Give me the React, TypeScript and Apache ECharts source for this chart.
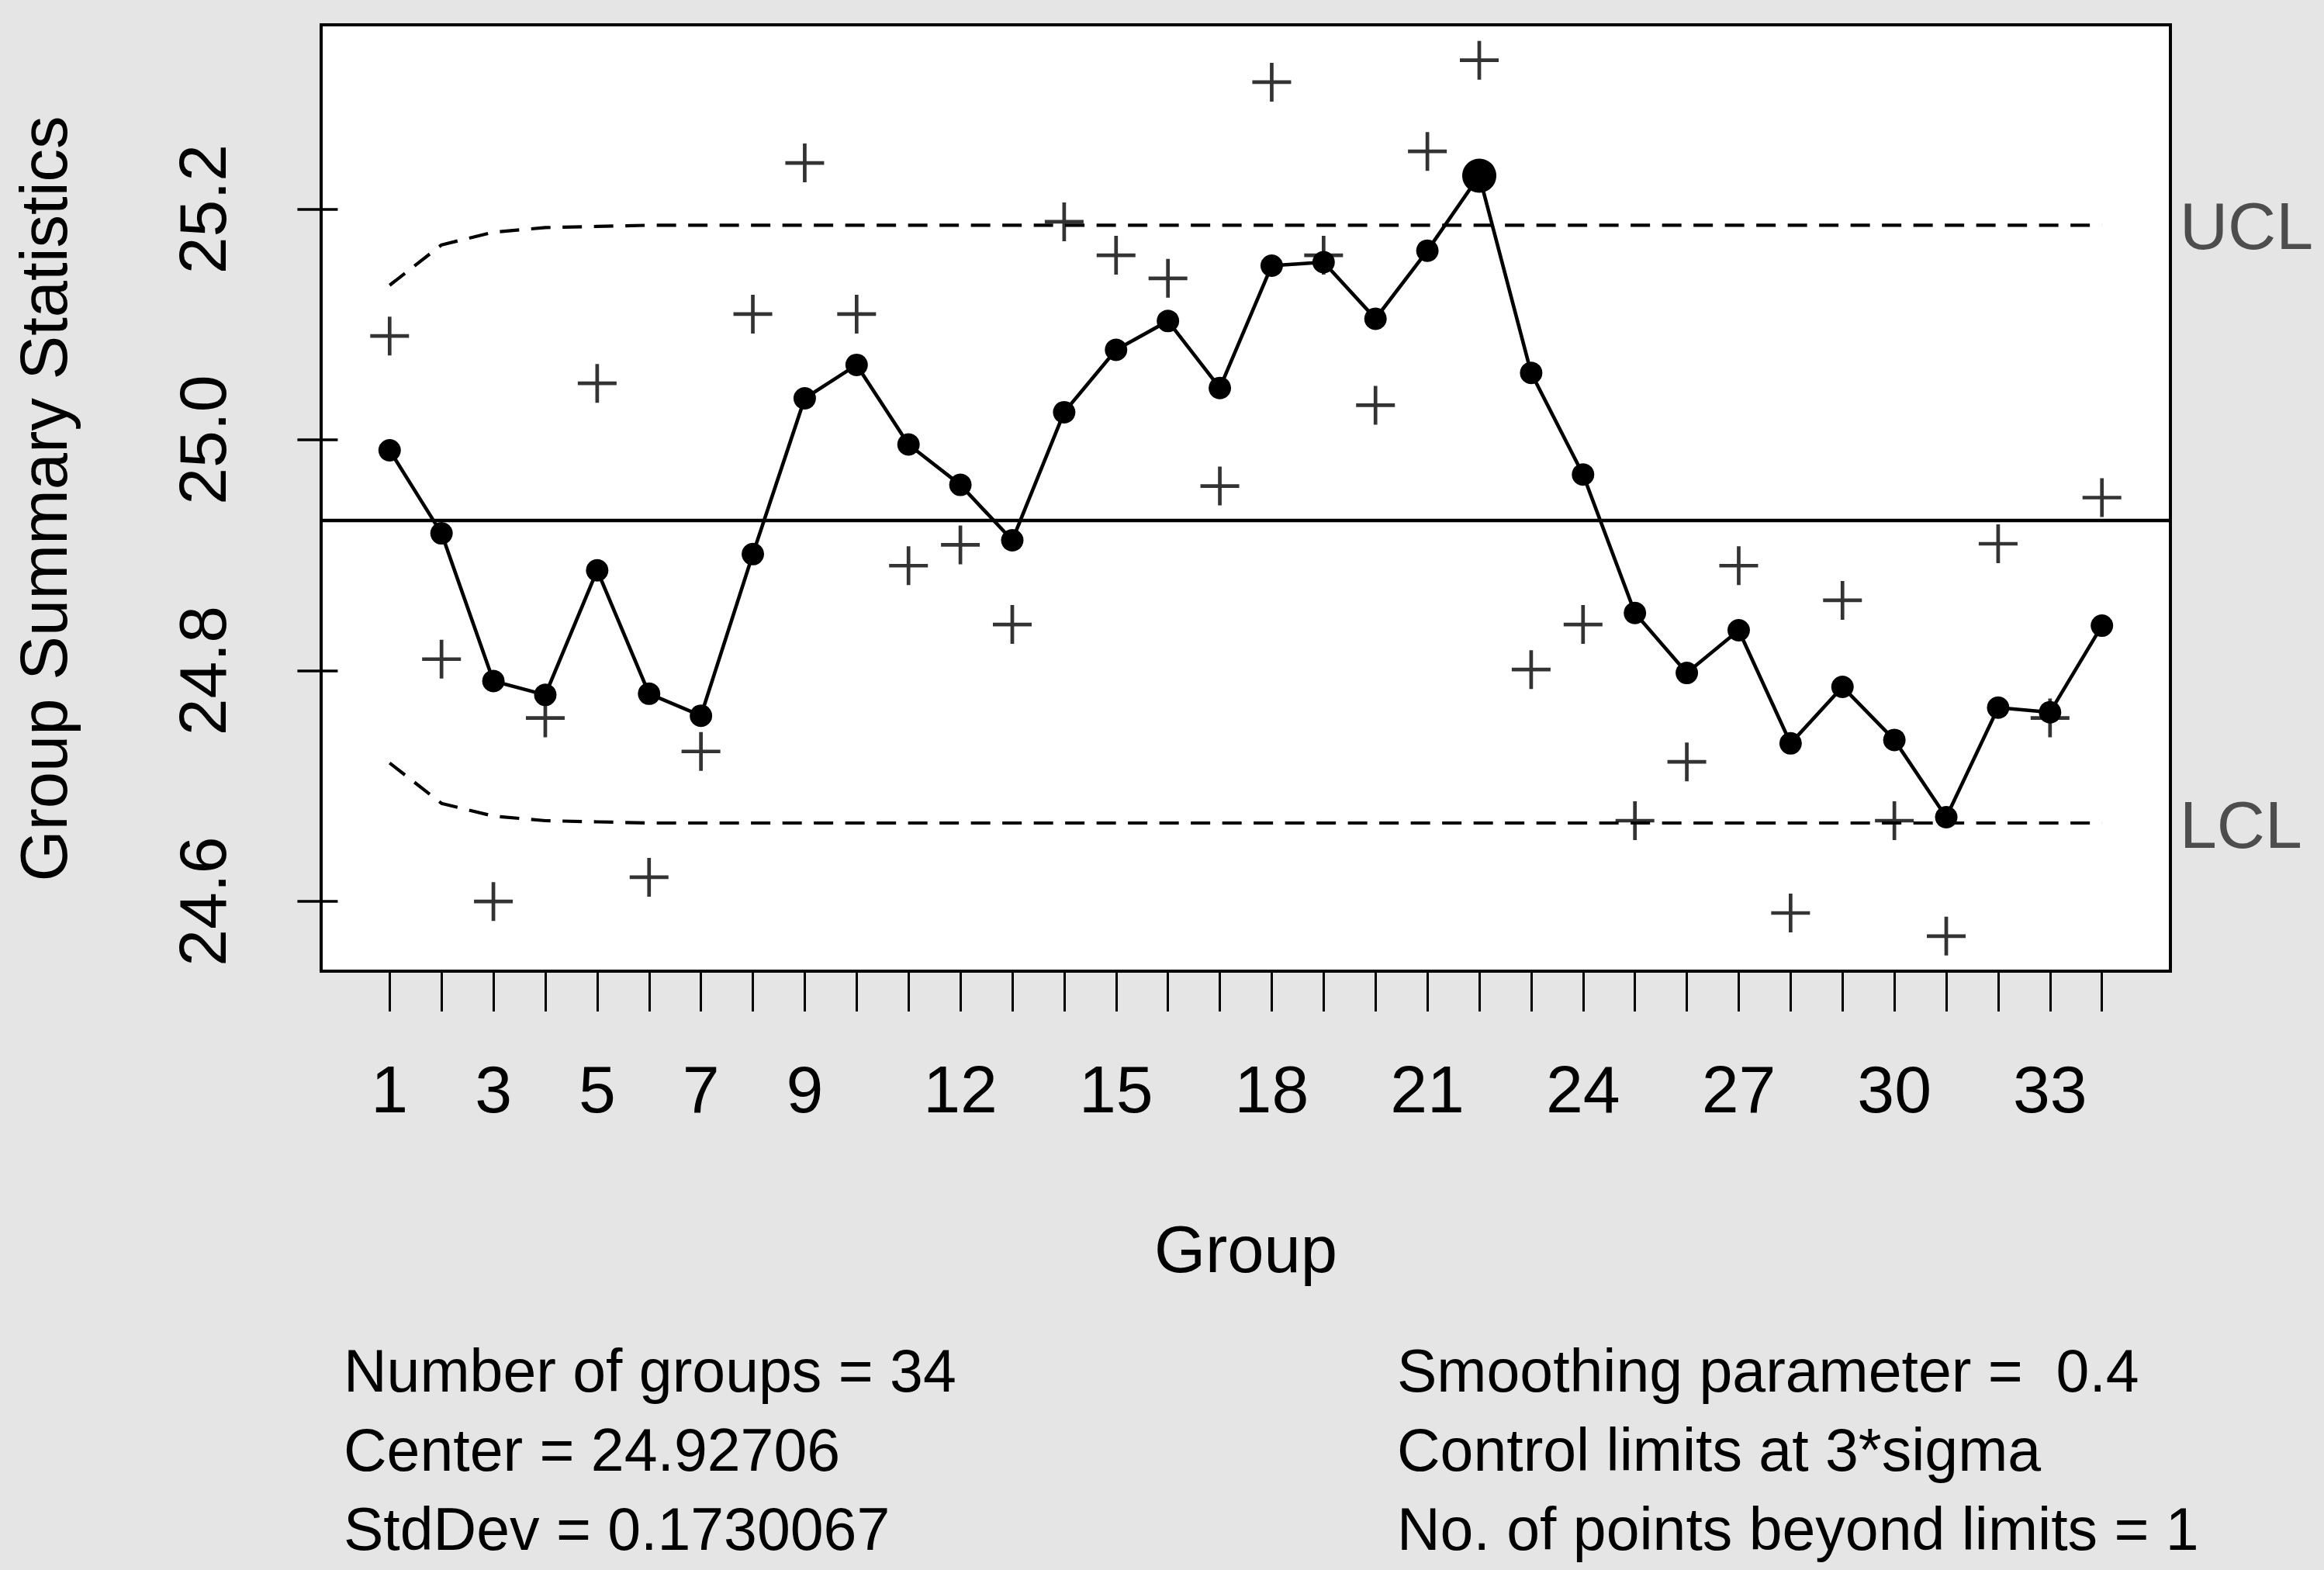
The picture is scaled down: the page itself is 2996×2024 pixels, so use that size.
import React, { useEffect, useRef } from "react";
import * as echarts from "echarts";

// ---- data ----
const groups: number[] = [
  1, 2, 3, 4, 5, 6, 7, 8, 9, 10, 11, 12, 13, 14, 15, 16, 17,
  18, 19, 20, 21, 22, 23, 24, 25, 26, 27, 28, 29, 30, 31, 32, 33, 34,
];
const groupStats: number[] = [
  25.09, 24.81, 24.6, 24.759, 25.049, 24.621, 24.73, 25.109, 25.24, 25.109,
  24.891, 24.909, 24.84, 25.189, 25.16, 25.14, 24.96, 25.31, 25.16, 25.03,
  25.25, 25.329, 24.801, 24.84, 24.67, 24.721, 24.891, 24.59, 24.861, 24.67,
  24.57, 24.91, 24.759, 24.95,
];
const ewmaValues: number[] = [
  24.991, 24.919, 24.791, 24.779, 24.887, 24.78, 24.761, 24.901, 25.036, 25.065,
  24.996, 24.961, 24.913, 25.024, 25.078, 25.103, 25.045, 25.151, 25.154, 25.105,
  25.164, 25.229, 25.058, 24.97, 24.85, 24.798, 24.835, 24.737, 24.786, 24.74,
  24.673, 24.768, 24.764, 24.839,
];
const uclValues: number[] = [
  25.134, 25.169, 25.18, 25.184, 25.185, 25.186, 25.186, 25.186, 25.186, 25.186,
  25.186, 25.186, 25.186, 25.186, 25.186, 25.186, 25.186, 25.186, 25.186, 25.186,
  25.186, 25.186, 25.186, 25.186, 25.186, 25.186, 25.186, 25.186, 25.186, 25.186,
  25.186, 25.186, 25.186, 25.186,
];
const lclValues: number[] = [
  24.72, 24.685, 24.674, 24.67, 24.669, 24.668, 24.668, 24.668, 24.668, 24.668,
  24.668, 24.668, 24.668, 24.668, 24.668, 24.668, 24.668, 24.668, 24.668, 24.668,
  24.668, 24.668, 24.668, 24.668, 24.668, 24.668, 24.668, 24.668, 24.668, 24.668,
  24.668, 24.668, 24.668, 24.668,
];
const centerValue = 24.92706;
const xTickLabels: number[] = [1, 3, 5, 7, 9, 12, 15, 18, 21, 24, 27, 30, 33];
const yTickValues: number[] = [24.6, 24.8, 25.0, 25.2];
const statsLeft: string[] = [
  "Number of groups = 34",
  "Center = 24.92706",
  "StdDev = 0.1730067",
];
const statsRight: string[] = [
  "Smoothing parameter =  0.4",
  "Control limits at 3*sigma",
  "No. of points beyond limits = 1",
];

const FONT = "'Liberation Sans', Arial, Helvetica, sans-serif";
const BG = "#e5e5e5";

// plus marker drawn as a filled cross
const t = 0.094;
const PLUS = `path://M${-t},-1 L${t},-1 L${t},${-t} L1,${-t} L1,${t} L${t},${t} L${t},1 L${-t},1 L${-t},${t} L-1,${t} L-1,${-t} L${-t},${-t} Z`;

function textEl(
  text: string,
  x: number,
  y: number,
  fontSize: number,
  align: string,
  fill = "#000",
  rotation = 0
) {
  return {
    type: "text",
    x,
    y,
    rotation,
    silent: true,
    style: {
      text,
      fontSize,
      fontFamily: FONT,
      fill,
      align,
      verticalAlign: "middle",
      textAlign: align,
      textVerticalAlign: "middle",
    },
  };
}

export default function App() {
  const ref = useRef<HTMLDivElement>(null);

  useEffect(() => {
    if (!ref.current) return;
    const chart = echarts.init(ref.current, undefined, { renderer: "svg" });

    const gridLeft = 414;
    const gridTop = 32;
    const gridWidth = 2384;
    const gridHeight = 1220;

    const statLineY = [1767, 1869, 1971];

    const graphics: any[] = [
      textEl("Group Summary Statistics", 56, gridTop + gridHeight / 2 + 1, 85, "center", "#000", Math.PI / 2),
      textEl("Group", gridLeft + gridWidth / 2, 1610, 85, "center"),
      textEl("UCL", 2810, 291, 86, "left", "#4d4d4d"),
      textEl("LCL", 2810, 1063, 86, "left", "#4d4d4d"),
    ];
    statsLeft.forEach((s, i) => graphics.push(textEl(s, 443, statLineY[i], 77, "left")));
    statsRight.forEach((s, i) => graphics.push(textEl(s, 1801, statLineY[i], 77, "left")));

    const beyond = ewmaValues.map(
      (v, i) => v > uclValues[i] || v < lclValues[i]
    );

    const option: any = {
      animation: false,
      backgroundColor: BG,
      textStyle: { fontFamily: FONT },
      grid: {
        left: gridLeft,
        top: gridTop,
        width: gridWidth,
        height: gridHeight,
        show: true,
        backgroundColor: "#ffffff",
        borderColor: "#000000",
        borderWidth: 4,
        containLabel: false,
        outerBoundsMode: "none",
      },
      xAxis: {
        type: "value",
        min: -0.32,
        max: 35.32,
        axisLine: { show: false },
        splitLine: { show: false },
        axisTick: {
          show: true,
          inside: false,
          length: 52,
          customValues: groups,
          lineStyle: { color: "#000", width: 3 },
        },
        axisLabel: {
          show: true,
          customValues: xTickLabels,
          margin: 109,
          fontSize: 86,
          fontFamily: FONT,
          color: "#000",
          formatter: (v: number) => String(Math.round(v)),
        },
      },
      yAxis: {
        type: "value",
        min: 24.5396,
        max: 25.3597,
        axisLine: { show: false },
        splitLine: { show: false },
        axisTick: {
          show: true,
          inside: false,
          length: 52,
          customValues: yTickValues,
          lineStyle: { color: "#000", width: 3.5 },
        },
        axisLabel: {
          show: true,
          customValues: yTickValues,
          rotate: 90,
          margin: 110,
          fontSize: 86,
          fontFamily: FONT,
          color: "#000",
          formatter: (v: number) => v.toFixed(1),
        },
      },
      series: [
        {
          name: "UCL",
          type: "line",
          data: groups.map((g, i) => [g, uclValues[i]]),
          symbol: "none",
          silent: true,
          lineStyle: { color: "#000", width: 4.2, type: [25, 15.5] },
          z: 2,
        },
        {
          name: "LCL",
          type: "line",
          data: groups.map((g, i) => [g, lclValues[i]]),
          symbol: "none",
          silent: true,
          lineStyle: { color: "#000", width: 4.2, type: [25, 15.5] },
          z: 2,
        },
        {
          name: "EWMA",
          type: "line",
          data: groups.map((g, i) => [g, ewmaValues[i]]),
          symbol: "circle",
          symbolSize: (_v: any, p: any) => (beyond[p.dataIndex] ? 44 : 29),
          showAllSymbol: true,
          silent: true,
          itemStyle: { color: "#000" },
          lineStyle: { color: "#000", width: 4.6 },
          z: 4,
          markLine: {
            silent: true,
            symbol: ["none", "none"],
            label: { show: false },
            lineStyle: { color: "#000", width: 4.4, type: "solid" },
            data: [{ yAxis: centerValue }],
            z: 3,
          },
        },
        {
          name: "Group statistics",
          type: "scatter",
          data: groups.map((g, i) => [g, groupStats[i]]),
          symbol: PLUS,
          symbolSize: 50,
          silent: true,
          itemStyle: { color: "#000" },
          z: 5,
        },
      ],
      graphic: { elements: graphics },
    };

    chart.setOption(option);
    return () => chart.dispose();
  }, []);

  return (
    <div
      ref={ref}
      style={{
        position: "fixed",
        left: 0,
        top: 0,
        width: "2996px",
        height: "2024px",
        background: BG,
      }}
    />
  );
}
